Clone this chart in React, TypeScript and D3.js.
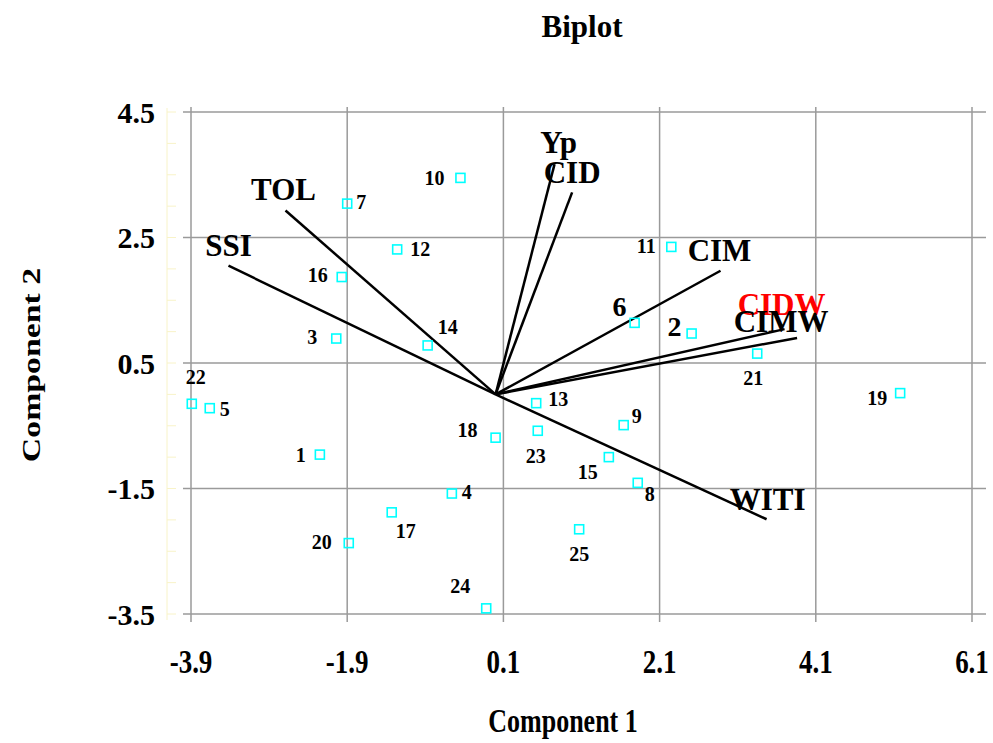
import React from 'react';
import * as d3 from 'd3';

// genotype scores (component 1, component 2)
const genotypes = ['1', '2', '3', '4', '5', '6', '7', '8', '9', '10', '11', '12', '13',
  '14', '15', '16', '17', '18', '19', '20', '21', '22', '23', '24', '25'];
const pc1 = [-2.25, 2.51, -2.04, -0.56, -3.66, 1.78, -1.9, 1.82, 1.64, -0.45, 2.25, -1.26, 0.52,
  -0.87, 1.45, -1.97, -1.33, 0.0, 5.18, -1.88, 3.35, -3.89, 0.54, -0.12, 1.07];
const pc2 = [-0.96, 0.97, 0.89, -1.58, -0.22, 1.14, 3.04, -1.41, -0.49, 3.45, 2.35, 2.31, -0.14,
  0.78, -1.0, 1.87, -1.88, -0.69, 0.02, -2.37, 0.65, -0.15, -0.58, -3.41, -2.15];

// trait vectors
const traits = ['Yp', 'CID', 'TOL', 'SSI', 'CIM', 'CIDW', 'CIMW', 'WITI'];
const load1 = [0.755, 0.98, -2.69, -3.42, 2.88, 3.7, 3.86, 3.47];
const load2 = [3.67, 3.22, 2.93, 2.05, 1.97, 1.04, 0.9, -1.99];

const xTicks = [-3.9, -1.9, 0.1, 2.1, 4.1, 6.1];
const yTicks = [4.5, 2.5, 0.5, -1.5, -3.5];

// label placement (pixels from the marker)
const pointLabelOffset: [number, number][] = [
  [-19, 0], [-17, -7], [-24, -2], [15, -2], [15, 1], [-15, -17], [14, -2], [12, 11], [13, -9],
  [-26, 0], [-25, -1], [23, 0], [22, -4], [20, -18], [-21, 15], [-24, -2], [14, 19], [-28, -8],
  [-23, 5], [-27, -1], [-4, 24], [4, -27], [-2, 25], [-26, -22], [0, 25],
];
const bigLabels = new Set(['2', '6']);
const traitLabelOffset: [number, number][] = [
  [4, -22], [0, -20], [-2, -21], [0, -21], [-1, -21], [-3, -25], [-16, -17], [1, -20],
];

const serif = '"Liberation Serif", "Times New Roman", serif';

export default function App() {
  const width = 993;
  const height = 743;
  const x = d3.scaleLinear().domain([-3.9, 6.1]).range([191, 972]);
  const y = d3.scaleLinear().domain([-3.5, 4.5]).range([614, 112]);
  const x0 = x(0);
  const y0 = y(0);
  const minor = d3.range(-3.5, 4.51, 0.5);
  const sq = 9;

  return (
    <div style={{ position: 'absolute', left: 0, top: 0 }}>
      <svg width={width} height={height} style={{ display: 'block', background: '#fff' }}>
        {/* faint minor axis on the left */}
        <line x1={167} x2={167} y1={108} y2={620} stroke="#f8f3c8" strokeWidth={1} />
        {minor.map((v) => (
          <line key={'m' + v} x1={167} x2={176} y1={y(v)} y2={y(v)} stroke="#f8f3c8" strokeWidth={1} />
        ))}

        {/* grid */}
        {xTicks.map((t) => (
          <line key={'gx' + t} x1={x(t)} x2={x(t)} y1={107} y2={622} stroke="#9a9a9a" strokeWidth={1.5} />
        ))}
        {yTicks.map((t) => (
          <line key={'gy' + t} x1={183} x2={986} y1={y(t)} y2={y(t)} stroke="#9a9a9a" strokeWidth={1.5} />
        ))}

        {/* tick labels */}
        {xTicks.map((t) => (
          <text key={'tx' + t} transform={`translate(${x(t)},673) scale(1,1.25)`} textAnchor="middle"
            fontFamily={serif} fontWeight="bold" fontSize={27}>{t.toFixed(1)}</text>
        ))}
        {yTicks.map((t) => (
          <text key={'ty' + t} x={155} y={y(t)} dy="0.35em" textAnchor="end" fontFamily={serif}
            fontWeight="bold" fontSize={30}>{t.toFixed(1)}</text>
        ))}

        {/* trait vectors */}
        {traits.map((t, i) => (
          <line key={'v' + t} x1={x0} y1={y0} x2={x(load1[i])} y2={y(load2[i])}
            stroke="#000" strokeWidth={2.5} />
        ))}

        {/* genotype markers */}
        {genotypes.map((g, i) => (
          <rect key={'p' + g} x={x(pc1[i]) - sq / 2} y={y(pc2[i]) - sq / 2} width={sq} height={sq}
            fill="none" stroke="#00ffff" strokeWidth={1.6} />
        ))}
        {genotypes.map((g, i) => (
          <text key={'pl' + g} x={x(pc1[i]) + pointLabelOffset[i][0]} y={y(pc2[i]) + pointLabelOffset[i][1]}
            dy="0.35em" textAnchor="middle" fontFamily={serif} fontWeight="bold"
            fontSize={bigLabels.has(g) ? 28 : 20}>{g}</text>
        ))}

        {/* trait labels */}
        {traits.map((t, i) => (
          <text key={'tl' + t} x={x(load1[i]) + traitLabelOffset[i][0]} y={y(load2[i]) + traitLabelOffset[i][1]}
            dy="0.35em" textAnchor="middle" fontFamily={serif} fontWeight="bold" fontSize={31}
            fill={t === 'CIDW' ? '#ff0000' : '#000'}>{t}</text>
        ))}

        {/* titles */}
        <text x={582} y={37} textAnchor="middle" fontFamily={serif} fontWeight="bold" fontSize={31}>Biplot</text>
        <text transform="translate(563,732) scale(1,1.3)" textAnchor="middle" fontFamily={serif}
          fontWeight="bold" fontSize={26}>Component 1</text>
        <text transform="translate(40,365) rotate(-90) scale(1.3,1)" textAnchor="middle" fontFamily={serif}
          fontWeight="bold" fontSize={26}>Component 2</text>
      </svg>
    </div>
  );
}
